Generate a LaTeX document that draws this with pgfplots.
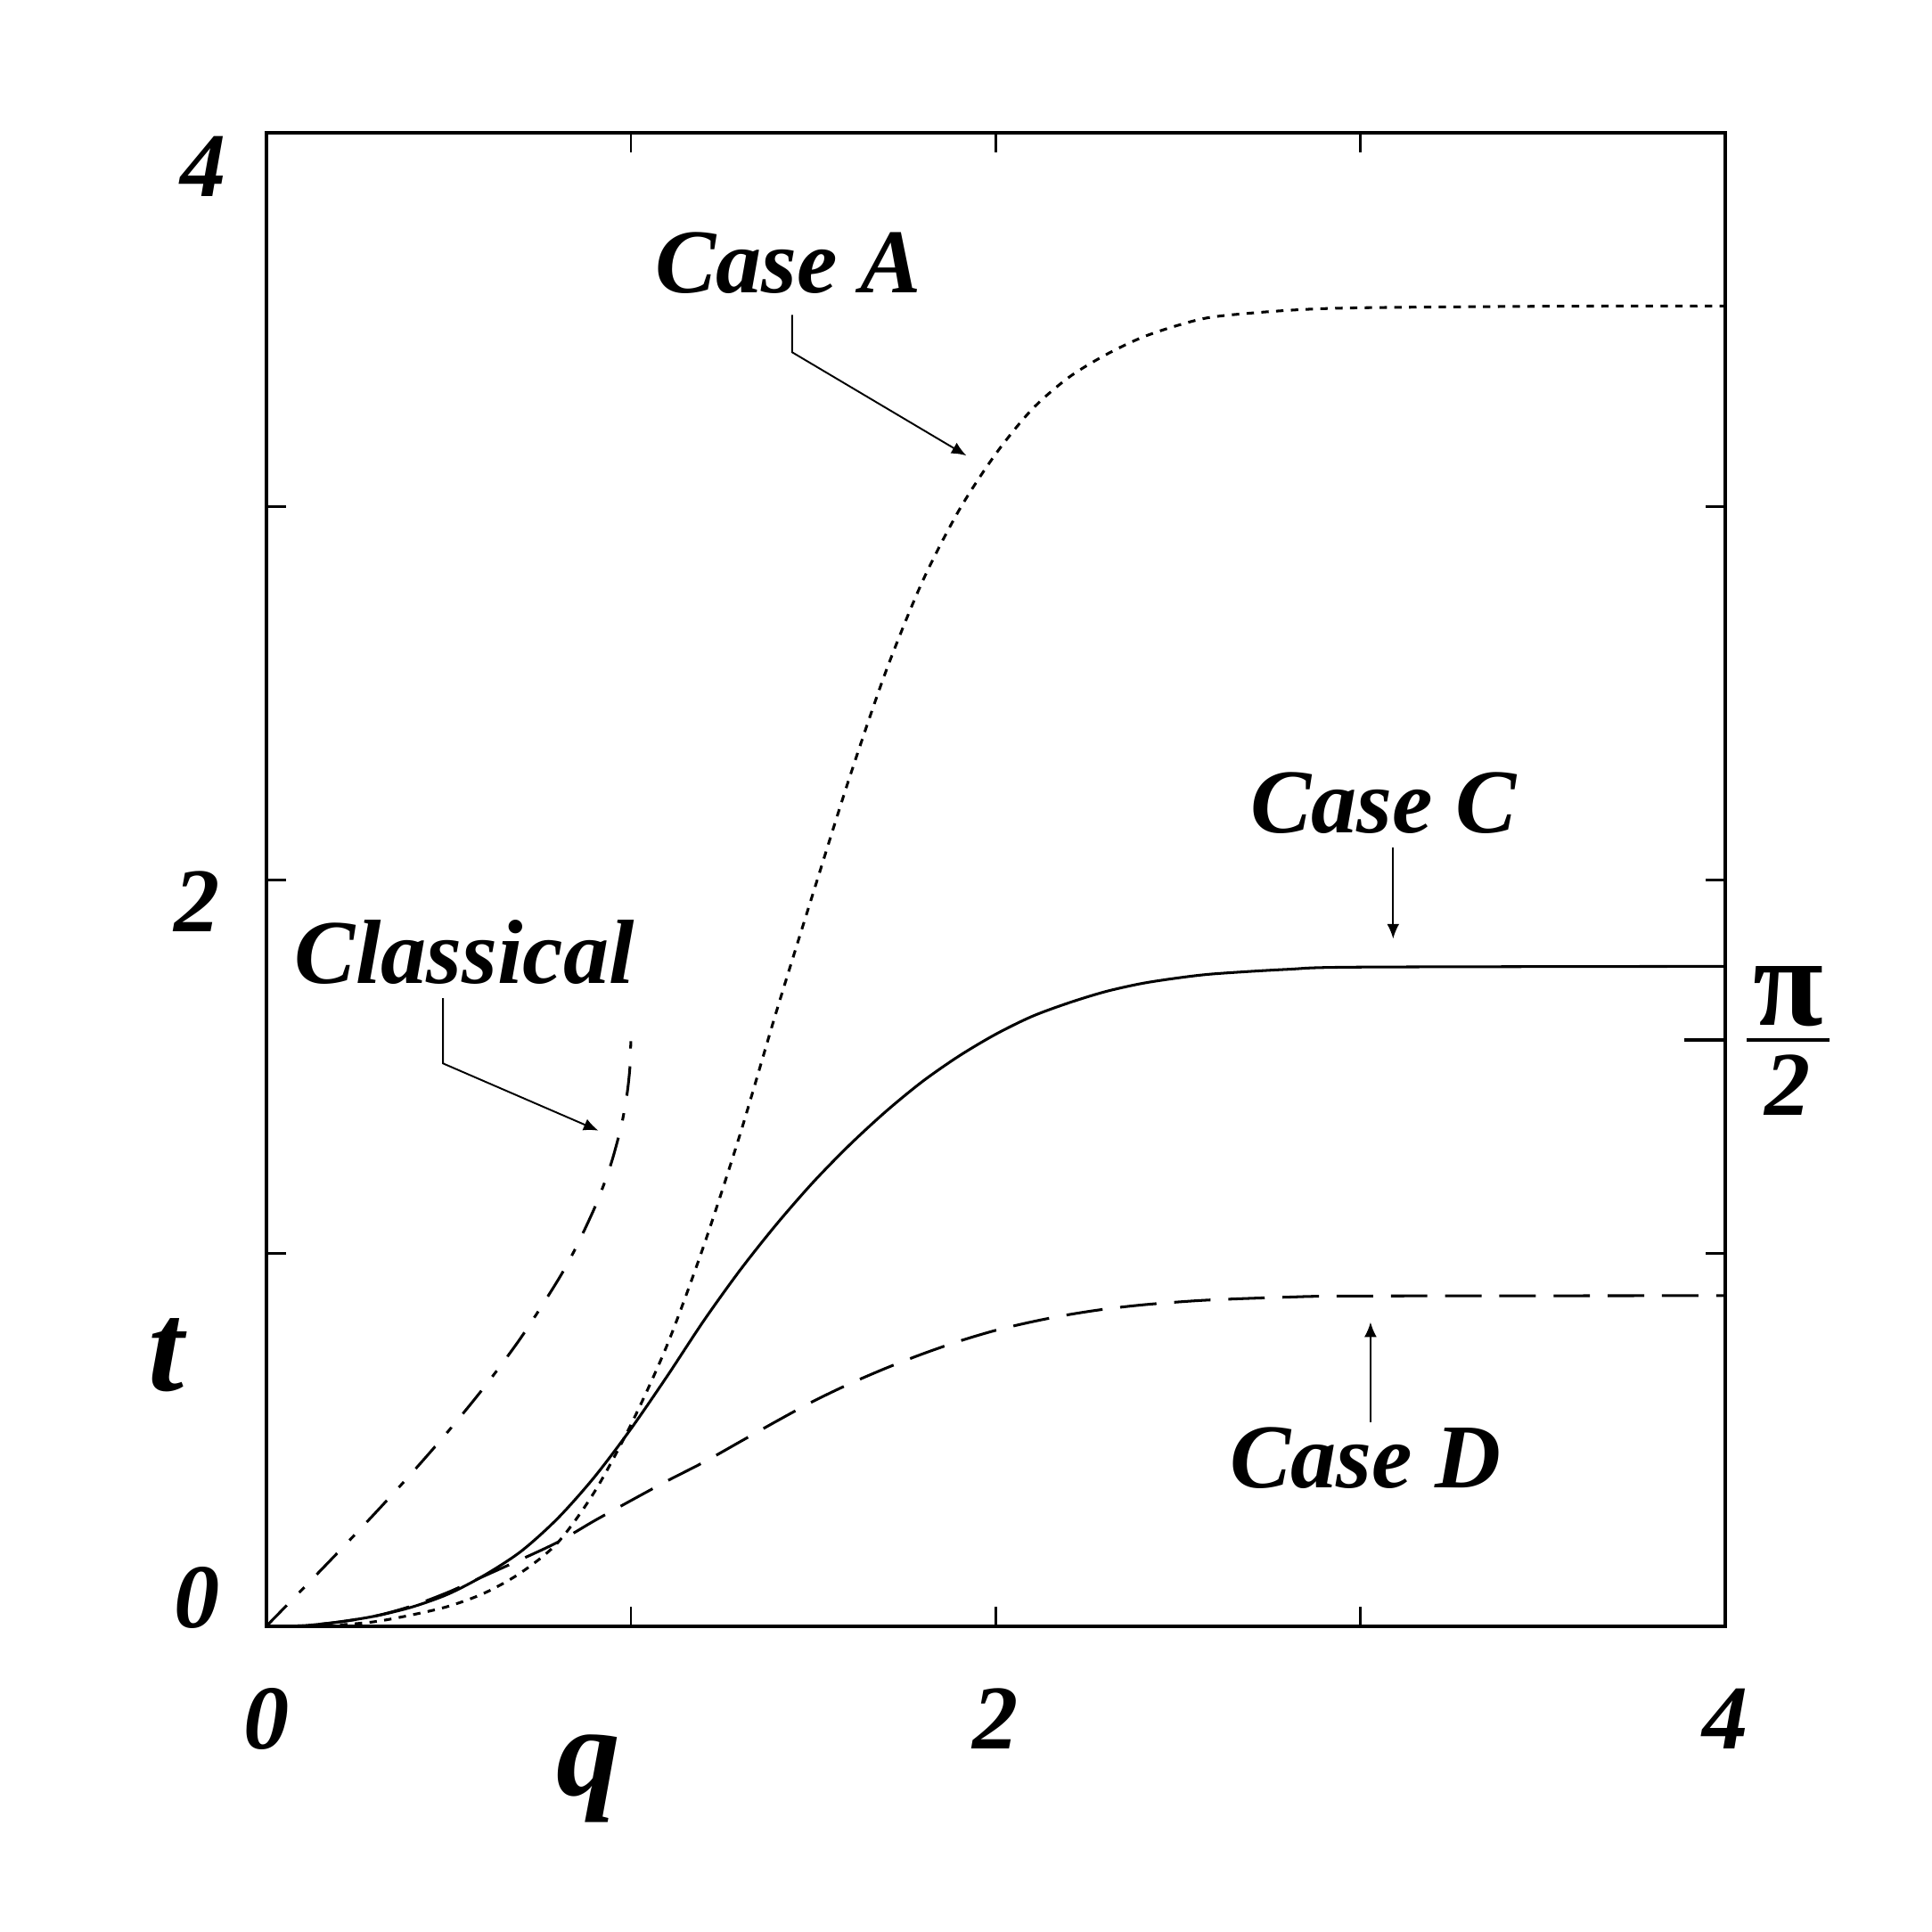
\documentclass[border=0pt]{standalone}
\usepackage{fontspec}
\setmainfont{Liberation Serif}
\usepackage{pgfplots}
\usepackage{pgfplotstable}
\pgfplotsset{compat=1.18}
\usetikzlibrary{arrows.meta}

\newcommand{\lbl}{\fontsize{18.5}{20}\selectfont\bfseries\itshape}
\newcommand{\axl}{\fontsize{26}{28}\selectfont\bfseries\itshape}

% Case A (dotted)
\pgfplotstableread{
q t
0 0
0.1 0.0005
0.2 0.004
0.3 0.013
0.4 0.031
0.5 0.054
0.6 0.09
0.7 0.145
0.8 0.225
0.9 0.36
1.0 0.54
1.1 0.755
1.2 1.02
1.3 1.32
1.4 1.65
1.5 1.965
1.6 2.275
1.7 2.56
1.8 2.80
1.9 2.99
2.0 3.14
2.1 3.26
2.2 3.345
2.3 3.405
2.4 3.452
2.5 3.485
2.6 3.508
2.8 3.525
3.0 3.532
3.5 3.536
4.0 3.537
}\caseA

% Case C (solid)
\pgfplotstableread{
q t
0 0
0.1 0.002
0.2 0.012
0.3 0.028
0.4 0.052
0.5 0.087
0.6 0.138
0.7 0.202
0.8 0.29
0.9 0.40
1.0 0.529
1.1 0.671
1.2 0.819
1.3 0.955
1.4 1.078
1.5 1.19
1.6 1.29
1.7 1.38
1.8 1.46
1.9 1.528
2.0 1.586
2.1 1.634
2.2 1.67
2.3 1.70
2.4 1.722
2.5 1.737
2.6 1.748
2.8 1.760
3.0 1.766
4.0 1.768
}\caseC

% Case D (dashed)
\pgfplotstableread{
q t
0 0
0.1 0.002
0.2 0.012
0.3 0.028
0.4 0.055
0.5 0.092
0.6 0.136
0.7 0.18
0.8 0.226
0.9 0.283
1.0 0.337
1.1 0.39
1.2 0.44
1.3 0.495
1.4 0.55
1.5 0.603
1.6 0.65
1.7 0.692
1.8 0.73
1.9 0.764
2.0 0.793
2.1 0.816
2.2 0.835
2.3 0.85
2.4 0.861
2.5 0.869
2.6 0.875
2.8 0.882
3.0 0.885
4.0 0.886
}\caseD

% Classical (dash-dot)
\pgfplotstableread{
q t
0 0
0.1 0.1002
0.2 0.2014
0.3 0.3047
0.4 0.4115
0.5 0.5236
0.6 0.6435
0.7 0.7754
0.8 0.9273
0.85 1.0160
0.9 1.1198
0.93 1.1944
0.95 1.2532
0.97 1.3252
0.98 1.3705
0.99 1.4293
0.995 1.4708
0.998 1.5075
1.0 1.5708
}\classical

\begin{document}
\begin{tikzpicture}
\begin{axis}[
  name=ax, scale only axis, clip=false,
  width=296pt, height=303pt,
  xmin=0, xmax=4, ymin=0, ymax=4,
  xtick={0,1,2,3,4}, ytick={0,1,2,3,4},
  xticklabels={0,,2,,4}, yticklabels={},
  xticklabel style={font=\lbl, anchor=center, yshift=-18.75pt},
  major tick length=4pt,
  tick style={black, line width=0.5pt},
  axis line style={line width=0.7pt},
  xlabel={q}, ylabel={t},
  xlabel style={font=\axl, anchor=center, at={(axis description cs:0.2213,-0.102)}},
  ylabel style={font=\axl, anchor=center, rotate=-90, at={(axis description cs:-0.0684,0.1815)}},
  every axis plot/.append style={line width=0.55pt, black, smooth},
]
\addplot[dash pattern=on 1.5pt off 1.5pt] table[x=q, y=t] {\caseA};
\addplot[solid] table[x=q, y=t] {\caseC};
\addplot[dash pattern=on 7.4pt off 3.6pt] table[x=q, y=t] {\caseD};
\addplot[dash pattern=on 6pt off 3.6pt on 1.5pt off 3.6pt] table[x=q, y=t] {\classical};

% y tick labels
\node[font=\lbl] at ([xshift=-12.75pt, yshift=-6.75pt]axis cs:0,4) {4};
\node[font=\lbl] at ([xshift=-14pt, yshift=-4.5pt]axis cs:0,2) {2};
\node[font=\lbl] at ([xshift=-14pt, yshift=5.75pt]axis cs:0,0) {0};

% pi/2 mark on the right
\draw[line width=0.55pt] (axis cs:4,1.5708) -- ++(-8.3pt,0);
\draw[line width=0.6pt] ([xshift=4.4pt]axis cs:4,1.5708) -- ++(16.8pt,0);
\node[font=\fontsize{26}{28}\selectfont\bfseries, inner sep=0pt] at ([xshift=12.8pt, yshift=8.9pt]axis cs:4,1.5708) {π};
\node[font=\lbl, inner sep=0pt] at ([xshift=12.8pt, yshift=-9.1pt]axis cs:4,1.5708) {2};

% annotations
\node[font=\lbl] at (axis cs:1.432,3.653) {Case A};
\draw[line width=0.35pt, -{Latex[length=3pt, width=2.5pt]}] (axis cs:1.442,3.513) -- (axis cs:1.442,3.413) -- (axis cs:1.920,3.136);
\node[font=\lbl] at (axis cs:3.064,2.205) {Case C};
\draw[line width=0.35pt, -{Latex[length=3pt, width=2.5pt]}] (axis cs:3.090,2.086) -- (axis cs:3.090,1.842);
\node[font=\lbl] at (axis cs:3.014,0.452) {Case D};
\draw[line width=0.35pt, -{Latex[length=3pt, width=2.5pt]}] (axis cs:3.028,0.547) -- (axis cs:3.028,0.815);
\node[font=\lbl] at (axis cs:0.544,1.805) {Classical};
\draw[line width=0.35pt, -{Latex[length=3pt, width=2.5pt]}] (axis cs:0.485,1.683) -- (axis cs:0.485,1.508) -- (axis cs:0.911,1.328);
\end{axis}
\path ([shift={(-54pt,-62pt)}]ax.south west) rectangle ([shift={(42pt,27pt)}]ax.north east);
\end{tikzpicture}
\end{document}
